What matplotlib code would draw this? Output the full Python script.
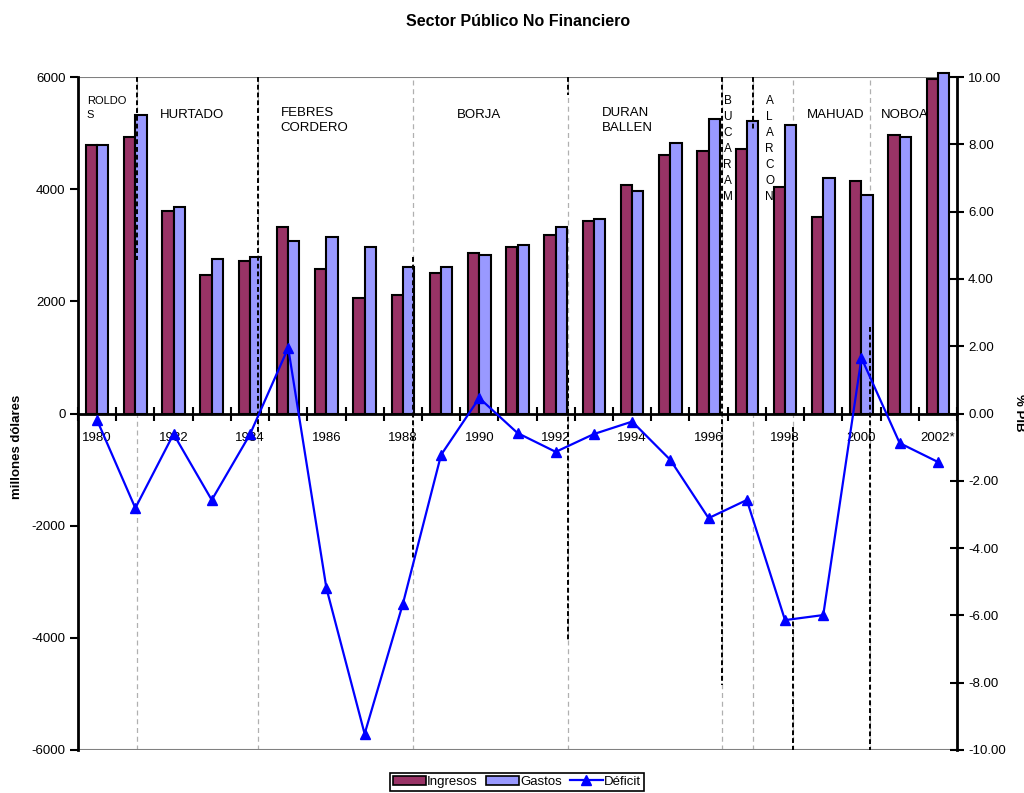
import matplotlib
matplotlib.use("Agg")
import matplotlib.pyplot as plt
import numpy as np
from matplotlib.patches import Patch
from matplotlib.lines import Line2D

plt.rcParams['font.family'] = ['Liberation Sans', 'DejaVu Sans']

years = ['1980', '1981', '1982', '1983', '1984', '1985', '1986', '1987', '1988',
         '1989', '1990', '1991', '1992', '1993', '1994', '1995', '1996', '1997',
         '1998', '1999', '2000', '2001', '2002*']
ingresos = [4790, 4930, 3610, 2470, 2720, 3325, 2575, 2060, 2110, 2505, 2860, 2970,
            3185, 3430, 4075, 4610, 4680, 4715, 4045, 3510, 4145, 4965, 5965]
gastos = [4790, 5320, 3680, 2755, 2790, 3075, 3145, 2970, 2610, 2610, 2825, 3005,
          3325, 3470, 3965, 4825, 5250, 5215, 5145, 4195, 3895, 4935, 6080]
deficit = [-0.20, -2.81, -0.61, -2.57, -0.62, 1.95, -5.19, -9.52, -5.66, -1.23, 0.46,
           -0.58, -1.14, -0.61, -0.24, -1.38, -3.11, -2.57, -6.14, -5.99, 1.65, -0.88,
           -1.44]

# cambios de gobierno (posicion en el eje de categorias)
cambios = [1.04, 4.21, 8.27, 12.33, 16.36, 17.17, 18.22, 20.23]
# tramos negros punteados (x, y0, y1) en millones
tramos = [(1.04, 6000, 2740), (4.21, 6000, -350), (8.27, 2790, -2610),
          (12.33, 6000, 5680), (12.33, 780, -4040), (16.36, 6000, -4840),
          (17.17, 6000, 5070), (18.22, -240, -6000), (20.23, 1540, -6000)]

maroon = '#993366'
lav = '#9999ff'

fig = plt.figure(figsize=(10.24, 7.93), dpi=100)
ax = fig.add_axes([78 / 1024, 1 - 750 / 793, 879 / 1024, 673 / 793])
x = np.arange(len(years))
w = 0.295
ax.bar(x - w / 2, ingresos, w, color=maroon, edgecolor='black', linewidth=1.5,
       clip_on=False, zorder=3)
ax.bar(x + w / 2, gastos, w, color=lav, edgecolor='black', linewidth=1.5,
       clip_on=False, zorder=3)
ax.set_xlim(-0.5, len(years) - 0.5)
ax.set_ylim(-6000, 6000)

for c in cambios:
    ax.axvline(c, color='#b0b0b0', lw=0.9, ls=(0, (4, 3)), zorder=1)
for c, y0, y1 in tramos:
    ax.plot([c, c], [y0, y1], color='black', lw=1.4, ls=(0, (2.5, 1.5)), zorder=4)

ax.axhline(6000, color='#808080', lw=1.5, zorder=2)
ax.axhline(-6000, color='#808080', lw=1.5, zorder=2)

for s in ['top', 'right']:
    ax.spines[s].set_visible(False)
ax.spines['bottom'].set_position(('data', 0))
ax.spines['bottom'].set_linewidth(2)
ax.spines['bottom'].set_zorder(5)
ax.spines['left'].set_linewidth(2)

ax.set_yticks(np.arange(-6000, 6001, 2000))
ax.set_yticklabels([str(v) for v in range(-6000, 6001, 2000)])
ax.tick_params(axis='y', direction='out', length=6, width=1.5, labelsize=9.5, pad=3)

ax.set_xticks(np.arange(-0.5, len(years) + 0.5, 1))
ax.set_xticklabels([])
ax.tick_params(axis='x', which='major', direction='inout', length=10, width=1.5)
ax.set_xticks(x[::2], minor=True)
ax.set_xticklabels(years[::2], minor=True)
ax.tick_params(axis='x', which='minor', length=0, labelsize=9.5, pad=13)

ax.set_ylabel('millones dólares', fontsize=9.5, fontweight='bold')
ax.yaxis.set_label_coords(-0.063, 0.45)

ax2 = ax.twinx()
ax2.plot(x, deficit, color='#0000ff', lw=1.6, marker='^', ms=7, zorder=6)
ax2.set_ylim(-10, 10)
ax2.set_yticks(np.arange(-10, 10.1, 2))
ax2.set_yticklabels(['%.2f' % v for v in np.arange(-10, 10.1, 2)])
ax2.tick_params(axis='y', direction='inout', length=10, width=1.5, labelsize=9.5, pad=3)
for s in ['top', 'left', 'bottom']:
    ax2.spines[s].set_visible(False)
ax2.spines['right'].set_linewidth(2)
fig.text(1019 / 1024, 1 - 413 / 793, '% PIB', rotation=270, ha='center', va='center',
         fontsize=9.5, fontweight='bold')

# nombres de presidentes
ax.text(-0.27, 5660, 'ROLDO\nS', fontsize=8, va='top', ha='left', linespacing=1.5)
ax.text(1.65, 5330, 'HURTADO', fontsize=9.5, va='center', ha='left')
ax.text(4.8, 5470, 'FEBRES\nCORDERO', fontsize=9.5, va='top', ha='left', linespacing=1.4)
ax.text(10.0, 5330, 'BORJA', fontsize=9.5, va='center', ha='center')
ax.text(13.2, 5470, 'DURAN\nBALLEN', fontsize=9.5, va='top', ha='left', linespacing=1.4)
ax.text(16.5, 5680, 'B\nU\nC\nA\nR\nA\nM', fontsize=8.5, va='top', ha='center', linespacing=1.45)
ax.text(17.6, 5680, 'A\nL\nA\nR\nC\nO\nN', fontsize=8.5, va='top', ha='center', linespacing=1.45)
ax.text(18.58, 5330, 'MAHUAD', fontsize=9.5, va='center', ha='left')
ax.text(20.52, 5330, 'NOBOA', fontsize=9.5, va='center', ha='left')

fig.text(518 / 1024, 1 - 21 / 793, 'Sector Público No Financiero', ha='center', va='center',
         fontsize=11.5, fontweight='bold')

handles = [Patch(facecolor=maroon, edgecolor='black', linewidth=1.2),
           Patch(facecolor=lav, edgecolor='black', linewidth=1.2),
           Line2D([], [], color='#0000ff', lw=1.6, marker='^', ms=7)]
leg = fig.legend(handles, ['Ingresos', 'Gastos', 'Déficit'], loc='upper center',
                 bbox_to_anchor=(517 / 1024, 1 - 773 / 793), ncol=3, fontsize=9.5,
                 frameon=True, fancybox=False, edgecolor='black', framealpha=1,
                 handlelength=2.5, handleheight=0.7, handletextpad=0.1,
                 columnspacing=0.6, borderpad=0.2, borderaxespad=0)
leg.get_frame().set_linewidth(1.2)

fig.savefig('out.png', dpi=100)
